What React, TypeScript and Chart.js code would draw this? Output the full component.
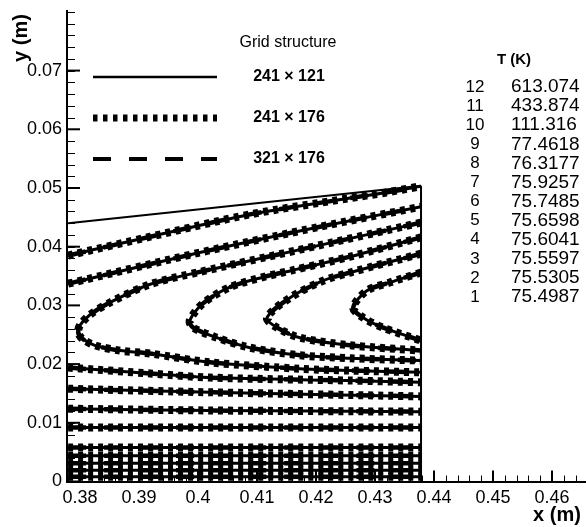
import React, { useEffect, useRef } from "react";
import { Chart, registerables } from "chart.js";

Chart.register(...registerables);

// ---- axis ranges & ticks ----
const X_MIN = 0.37797;
const X_MAX = 0.46576;
const Y_MIN = 0;
const Y_MAX = 0.08032;
const xTickValues = [0.38, 0.39, 0.4, 0.41, 0.42, 0.43, 0.44, 0.45, 0.46];
const xTickLabels = ["0.38", "0.39", "0.4", "0.41", "0.42", "0.43", "0.44", "0.45", "0.46"];
const yTickValues = [0, 0.01, 0.02, 0.03, 0.04, 0.05, 0.06, 0.07];
const yTickLabels = ["0", "0.01", "0.02", "0.03", "0.04", "0.05", "0.06", "0.07"];
const xMinorStep = 0.002;
const yMinorStep = 0.002;

// ---- contour level table ----
const levelIds = ["12", "11", "10", "9", "8", "7", "6", "5", "4", "3", "2", "1"];
const levelTemps = ["613.074", "433.874", "111.316", "77.4618", "76.3177", "75.9257", "75.7485", "75.6598", "75.6041", "75.5597", "75.5305", "75.4987"];

// ---- legend ----
const gridNames = ["241 \u00d7 121", "241 \u00d7 176", "321 \u00d7 176"];

// ---- domain boundaries ----
const topBoundaryX = [0.378, 0.4378];
const topBoundaryY = [0.0440, 0.0504];
const rightBoundaryX = [0.4378, 0.4378];
const rightBoundaryY = [0, 0.0504];

// ---- contour lines (x, y in metres) ----
const contourAX = [0.378, 0.3919, 0.4088, 0.4253, 0.4317, 0.4378];
const contourAY = [0.0385, 0.0417, 0.0455, 0.0482, 0.0492, 0.0503];

const contourBX = [0.378, 0.4003, 0.4207, 0.4378];
const contourBY = [0.0337, 0.0390, 0.0434, 0.0468];

const contourU1X = [0.4378, 0.4173, 0.4003, 0.3919, 0.3851, 0.3817, 0.3800, 0.3797, 0.3803, 0.3825, 0.3868, 0.3919, 0.4020, 0.4173, 0.4258, 0.4378];
const contourU1Y = [0.0441, 0.0395, 0.0357, 0.0336, 0.0305, 0.0284, 0.0266, 0.0254, 0.0244, 0.0232, 0.0223, 0.0218, 0.0203, 0.0192, 0.0189, 0.0186];

const contourU2X = [0.4378, 0.4258, 0.4161, 0.4110, 0.4054, 0.4008, 0.3986, 0.3992, 0.4032, 0.4088, 0.4173, 0.4258, 0.4378];
const contourU2Y = [0.0416, 0.0383, 0.0360, 0.0348, 0.0331, 0.0303, 0.0274, 0.0262, 0.0245, 0.0228, 0.0215, 0.0210, 0.0206];

const contourU3X = [0.4378, 0.4258, 0.4212, 0.4156, 0.4117, 0.4134, 0.4173, 0.4258, 0.4378];
const contourU3Y = [0.0388, 0.0356, 0.0342, 0.0313, 0.0279, 0.0262, 0.0245, 0.0232, 0.0223];

const contourU4X = [0.4378, 0.4325, 0.4286, 0.4263, 0.4280, 0.4314, 0.4378];
const contourU4Y = [0.0356, 0.0339, 0.0325, 0.0296, 0.0279, 0.0262, 0.0240];

const contourH1X = [0.378, 0.3919, 0.4020, 0.4258, 0.4378];
const contourH1Y = [0.0194, 0.0184, 0.0177, 0.0172, 0.0169];
const contourH2X = [0.378, 0.4020, 0.4378];
const contourH2Y = [0.0158, 0.0152, 0.0145];
const contourH3X = [0.378, 0.4020, 0.4378];
const contourH3Y = [0.0124, 0.0121, 0.0119];
const contourH4X = [0.378, 0.4378];
const contourH4Y = [0.0092, 0.0092];

const contourD1X = [0.378, 0.4378];
const contourD1Y = [0.0058, 0.0058];
const contourD2X = [0.378, 0.4378];
const contourD2Y = [0.0044, 0.0044];
const contourD3X = [0.378, 0.4378];
const contourD3Y = [0.0031, 0.0031];
const contourD4X = [0.378, 0.4378];
const contourD4Y = [0.0019, 0.0019];
const contourD5X = [0.378, 0.4378];
const contourD5Y = [0.0008, 0.0008];

const FONT = "'Liberation Sans', Arial, Helvetica, sans-serif";

const gridStyles = [
  { width: 3, dash: [] as number[] },
  { width: 8, dash: [5, 5] },
  { width: 4.5, dash: [18, 18] },
];
const legendStyles = [
  { width: 2.5, dash: [] as number[] },
  { width: 7, dash: [4.5, 5.5] },
  { width: 4, dash: [18, 18] },
];

export default function App() {
  const ref = useRef<HTMLCanvasElement>(null);

  useEffect(() => {
    const canvas = ref.current;
    if (!canvas) return;
    const pts = (xs: number[], ys: number[]) => xs.map((x, i) => ({ x, y: ys[i] }));

    const contours = [
      [contourAX, contourAY],
      [contourBX, contourBY],
      [contourU1X, contourU1Y],
      [contourU2X, contourU2Y],
      [contourU3X, contourU3Y],
      [contourU4X, contourU4Y],
      [contourH1X, contourH1Y],
      [contourH2X, contourH2Y],
      [contourH3X, contourH3Y],
      [contourH4X, contourH4Y],
      [contourD1X, contourD1Y],
      [contourD2X, contourD2Y],
      [contourD3X, contourD3Y],
      [contourD4X, contourD4Y],
      [contourD5X, contourD5Y],
    ];

    const datasets: any[] = [
      { data: pts(topBoundaryX, topBoundaryY), borderColor: "#000", borderWidth: 2, pointRadius: 0, tension: 0, fill: false },
      { data: pts(rightBoundaryX, rightBoundaryY), borderColor: "#000", borderWidth: 2, pointRadius: 0, tension: 0, fill: false },
    ];
    contours.forEach(([xs, ys]) => {
      gridStyles.forEach((s) => {
        datasets.push({
          data: pts(xs, ys),
          borderColor: "#000",
          borderWidth: s.width,
          borderDash: s.dash,
          borderCapStyle: "butt",
          pointRadius: 0,
          tension: 0.3,
          fill: false,
        });
      });
    });

    const axesPlugin = {
      id: "axesPlugin",
      afterDatasetsDraw(chart: any) {
        const { ctx, chartArea, scales } = chart;
        const xs = scales.x;
        const ys = scales.y;
        ctx.save();
        ctx.strokeStyle = "#000";
        // minor ticks
        ctx.lineWidth = 1;
        for (let k = 0; k * yMinorStep <= Y_MAX; k++) {
          const py = Math.round(ys.getPixelForValue(k * yMinorStep)) + 0.5;
          ctx.beginPath();
          ctx.moveTo(chartArea.left, py);
          ctx.lineTo(chartArea.left + 7, py);
          ctx.stroke();
        }
        for (let k = Math.ceil(X_MIN / xMinorStep); k * xMinorStep <= X_MAX; k++) {
          const px = Math.round(xs.getPixelForValue(k * xMinorStep)) + 0.5;
          ctx.beginPath();
          ctx.moveTo(px, chartArea.bottom);
          ctx.lineTo(px, chartArea.bottom - 6);
          ctx.stroke();
        }
        // major ticks
        ctx.lineWidth = 2;
        yTickValues.forEach((v) => {
          const py = ys.getPixelForValue(v);
          ctx.beginPath();
          ctx.moveTo(chartArea.left, py);
          ctx.lineTo(chartArea.left + 12, py);
          ctx.stroke();
        });
        xTickValues.forEach((v) => {
          const px = xs.getPixelForValue(v);
          ctx.beginPath();
          ctx.moveTo(px, chartArea.bottom);
          ctx.lineTo(px, chartArea.bottom - 11);
          ctx.stroke();
        });
        // axis lines
        ctx.lineWidth = 2;
        ctx.beginPath();
        ctx.moveTo(chartArea.left - 1, chartArea.top);
        ctx.lineTo(chartArea.left - 1, chartArea.bottom + 1);
        ctx.stroke();
        ctx.beginPath();
        ctx.moveTo(chartArea.left - 2, chartArea.bottom + 0.5);
        ctx.lineTo(chartArea.right, chartArea.bottom + 0.5);
        ctx.stroke();
        ctx.restore();
      },
      afterDraw(chart: any) {
        const { ctx } = chart;
        ctx.save();
        ctx.fillStyle = "#000";
        ctx.strokeStyle = "#000";
        // axis titles
        ctx.font = `bold 20px ${FONT}`;
        ctx.textAlign = "center";
        ctx.textBaseline = "middle";
        ctx.fillText("x (m)", 557, 515);
        ctx.save();
        ctx.translate(21.5, 38);
        ctx.rotate(-Math.PI / 2);
        ctx.fillText("y (m)", 0, 0);
        ctx.restore();

        // legend
        ctx.font = `16px ${FONT}`;
        ctx.fillText("Grid structure", 288, 43);
        const legY = [77, 118, 159];
        legendStyles.forEach((s, i) => {
          ctx.beginPath();
          ctx.lineWidth = s.width;
          ctx.setLineDash(s.dash);
          ctx.lineCap = "butt";
          ctx.moveTo(93, legY[i]);
          ctx.lineTo(217, legY[i]);
          ctx.stroke();
          ctx.setLineDash([]);
          ctx.font = `bold 16px ${FONT}`;
          ctx.fillText(gridNames[i], 289, legY[i]);
        });

        // level table
        ctx.font = `bold 15px ${FONT}`;
        ctx.textAlign = "center";
        ctx.fillText("T (K)", 514, 60);
        levelIds.forEach((id, i) => {
          const y = 87 + i * 19.1;
          ctx.font = `17px ${FONT}`;
          ctx.textAlign = "center";
          ctx.fillText(id, 475, y);
          ctx.font = `19px ${FONT}`;
          ctx.textAlign = "left";
          ctx.fillText(levelTemps[i], 511, y);
        });
        ctx.restore();
      },
    };

    const chart = new Chart(canvas, {
      type: "line",
      data: { datasets },
      options: {
        animation: false,
        responsive: false,
        devicePixelRatio: 1,
        events: [],
        layout: { padding: { top: 10, left: 0, right: 0, bottom: 0 } },
        plugins: { legend: { display: false }, tooltip: { enabled: false } },
        scales: {
          x: {
            type: "linear",
            min: X_MIN,
            max: X_MAX,
            grid: { display: false, drawTicks: false },
            border: { display: false },
            ticks: {
              autoSkip: false,
              maxRotation: 0,
              padding: 6,
              color: "#000",
              font: { family: FONT, size: 18 },
              callback: (_v: any, i: number) => xTickLabels[i],
            },
            afterBuildTicks: (s: any) => {
              s.ticks = xTickValues.map((v) => ({ value: v }));
            },
            afterFit: (s: any) => {
              s.height = 45.5;
              s.paddingLeft = 0;
              s.paddingRight = 0;
              s.paddingTop = 0;
              s.paddingBottom = 0;
            },
          },
          y: {
            type: "linear",
            min: Y_MIN,
            max: Y_MAX,
            grid: { display: false, drawTicks: false },
            border: { display: false },
            ticks: {
              autoSkip: false,
              padding: 6,
              color: "#000",
              font: { family: FONT, size: 18 },
              callback: (_v: any, i: number) => yTickLabels[i],
            },
            afterBuildTicks: (s: any) => {
              s.ticks = yTickValues.map((v) => ({ value: v }));
            },
            afterFit: (s: any) => {
              s.width = 68;
              s.paddingLeft = 0;
              s.paddingRight = 0;
              s.paddingTop = 0;
              s.paddingBottom = 0;
            },
          },
        },
      } as any,
      plugins: [axesPlugin],
    });
    return () => chart.destroy();
  }, []);

  return (
    <div style={{ position: "fixed", left: 0, top: 0, width: 586, height: 527, background: "#fff" }}>
      <canvas ref={ref} width={586} height={527} style={{ width: 586, height: 527, display: "block" }} />
    </div>
  );
}
